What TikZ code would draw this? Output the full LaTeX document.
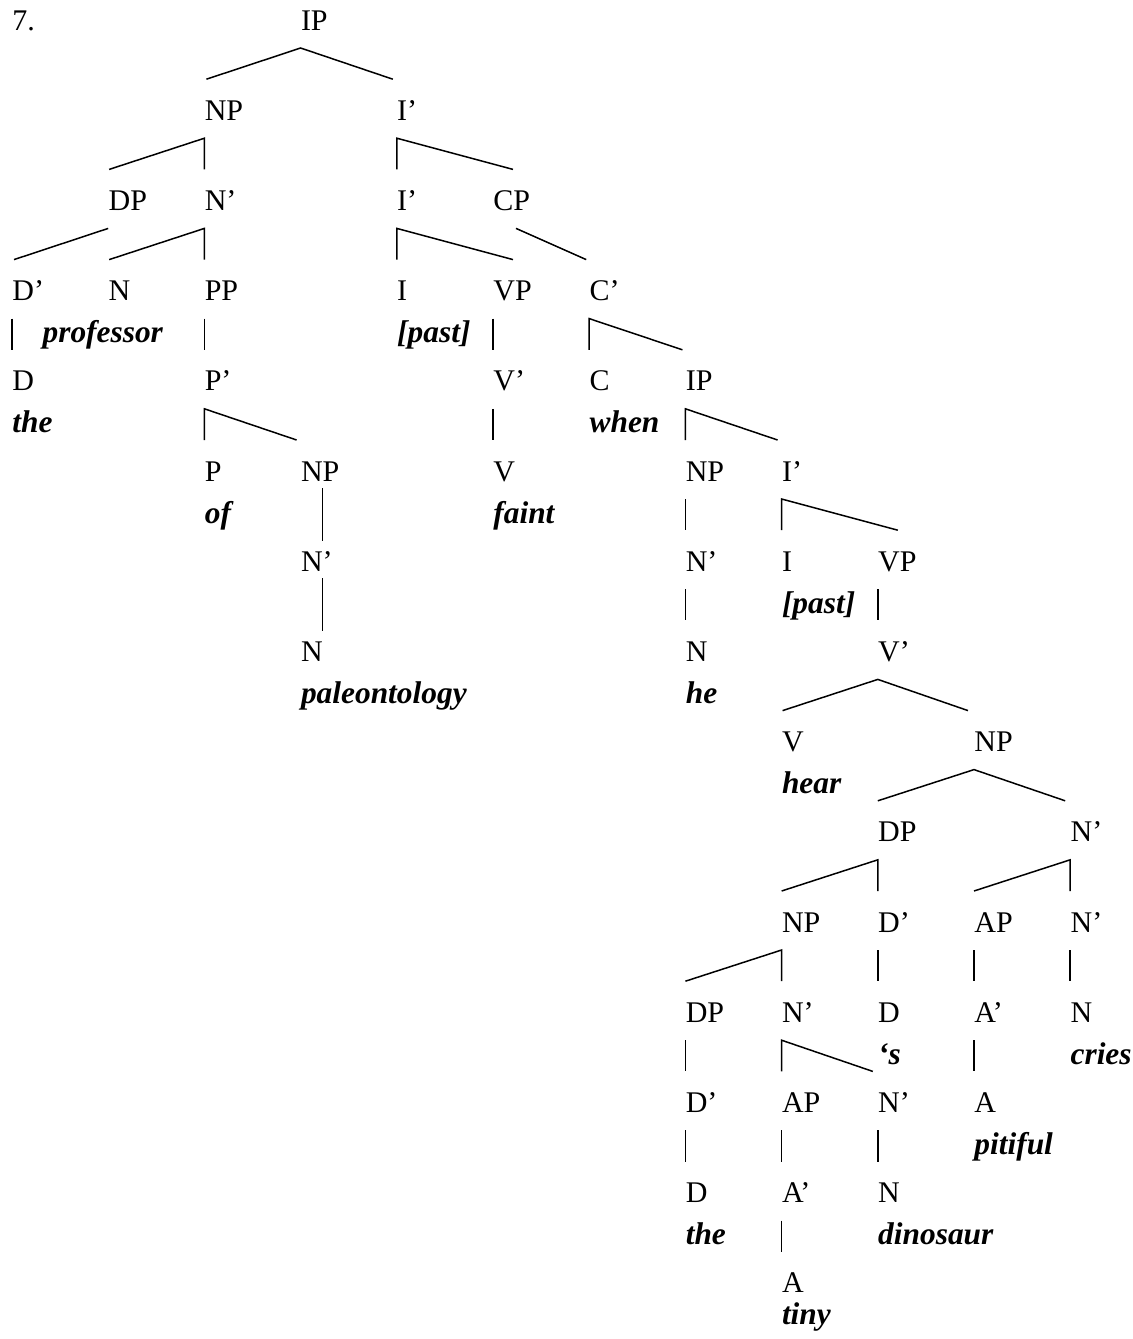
\documentclass[tikz,border=0pt]{standalone}
\usepackage{fontspec}
\setmainfont{Liberation Serif}
\usepackage{tikz}
\usetikzlibrary{calc}
\newcommand{\treefont}{\fontsize{15}{18}\selectfont}
\newcommand{\wordfont}{\fontsize{15.7}{18}\selectfont\bfseries\itshape}

\begin{document}
\begin{tikzpicture}[
  x=48.1pt, y=-45.1pt,
  lab/.style={anchor=base west, inner sep=0pt, font=\treefont},
  wd/.style={anchor=base west, inner sep=0pt, yshift=-21pt, font=\wordfont},
  edge/.style={line width=0.75pt},
  apex/.style={yshift=-9pt},
  foot/.style={yshift=20.5pt}
]
  \useasboundingbox (-6pt,15pt) rectangle (560.5pt,-654.5pt);
  % upper part of the tree
  \node[lab] (num) at (0,0) {7.};
  \node[lab] (ip) at (3,0) {IP};
  \node[lab] (np) at (2,1) {NP};
  \node[lab] (ib) at (4,1) {I’};
  \node[lab] (dp) at (1,2) {DP};
  \node[lab] (nb) at (2,2) {N’};
  \node[lab] (ib2) at (4,2) {I’};
  \node[lab] (cp) at (5,2) {CP};
  \node[lab] (db) at (0,3) {D’};
  \node[lab] (n) at (1,3) {N};
  \node[wd, xshift=-33pt] (wprof) at (1,3) {professor};
  \node[lab] (pp) at (2,3) {PP};
  \node[lab] (i) at (4,3) {I};
  \node[wd] (wpast) at (4,3) {[past]};
  \node[lab] (vp) at (5,3) {VP};
  \node[lab] (cb) at (6,3) {C’};
  \node[lab] (d) at (0,4) {D};
  \node[wd] (wthe) at (0,4) {the};
  \node[lab] (pb) at (2,4) {P’};
  \node[lab] (vb) at (5,4) {V’};
  \node[lab] (c) at (6,4) {C};
  \node[wd] (wwhen) at (6,4) {when};
  \node[lab] (ip2) at (7,4) {IP};
  \node[lab] (p) at (2,5) {P};
  \node[wd] (wof) at (2,5) {of};
  \node[lab] (np2) at (3,5) {NP};
  \node[lab] (v) at (5,5) {V};
  \node[wd] (wfaint) at (5,5) {faint};
  \node[lab] (np3) at (7,5) {NP};
  \node[lab] (ib3) at (8,5) {I’};
  \node[lab] (nb2) at (3,6) {N’};
  \node[lab] (nb3) at (7,6) {N’};
  \node[lab] (i2) at (8,6) {I};
  \node[wd] (wpast2) at (8,6) {[past]};
  \node[lab] (vp2) at (9,6) {VP};
  \node[lab] (n2) at (3,7) {N};
  \node[wd] (wpaleo) at (3,7) {paleontology};
  \node[lab] (n3) at (7,7) {N};
  \node[wd] (whe) at (7,7) {he};
  \node[lab] (vb2) at (9,7) {V’};
  % object of hear
  \node[lab] (v2) at (8,8) {V};
  \node[wd] (whear) at (8,8) {hear};
  \node[lab] (np4) at (10,8) {NP};
  \node[lab] (dp2) at (9,9) {DP};
  \node[lab] (nb4) at (11,9) {N’};
  \node[lab] (np5) at (8,10) {NP};
  \node[lab] (db2) at (9,10) {D’};
  \node[lab] (ap) at (10,10) {AP};
  \node[lab] (nb5) at (11,10) {N’};
  \node[lab] (dp3) at (7,11) {DP};
  \node[lab] (nb6) at (8,11) {N’};
  \node[lab] (d2) at (9,11) {D};
  \node[wd] (ws) at (9,11) {‘s};
  \node[lab] (ab) at (10,11) {A’};
  \node[lab] (n4) at (11,11) {N};
  \node[wd] (wcries) at (11,11) {cries};
  \node[lab] (db3) at (7,12) {D’};
  \node[lab] (ap2) at (8,12) {AP};
  \node[lab] (nb7) at (9,12) {N’};
  \node[lab] (a) at (10,12) {A};
  \node[wd] (wpitiful) at (10,12) {pitiful};
  \node[lab] (d3) at (7,13) {D};
  \node[wd] (wthe2) at (7,13) {the};
  \node[lab] (ab2) at (8,13) {A’};
  \node[lab] (n5) at (9,13) {N};
  \node[wd] (wdino) at (9,13) {dinosaur};
  \node[lab] (a2) at (8,14) {A};
  \node[wd, yshift=5pt] (wtiny) at (8,14) {tiny};

  % branching
  \draw[edge] ([foot,xshift=1pt]np.base west) -- ([apex]ip.base west) -- ([foot,xshift=-2pt]ib.base west);
  \draw[edge] ([foot,xshift=.5pt]dp.base west) -- ([apex]np.base west) -- ([foot]nb.base west);
  \draw[edge] ([foot]ib2.base west) -- ([apex]ib.base west) -- ([foot,xshift=10pt]cp.base west);
  \draw[edge] ([apex]dp.base west) -- ([foot,xshift=1pt]db.base west);
  \draw[edge] ([foot,xshift=.5pt]n.base west) -- ([apex]nb.base west) -- ([foot]pp.base west);
  \draw[edge] ([foot]i.base west) -- ([apex]ib2.base west) -- ([foot,xshift=10pt]vp.base west);
  \draw[edge] ([apex,xshift=11.5pt]cp.base west) -- ([foot,xshift=-1.5pt]cb.base west);
  \draw[edge] ([foot]c.base west) -- ([apex]cb.base west) -- ([foot,xshift=-1.5pt]ip2.base west);
  \draw[edge] ([foot]p.base west) -- ([apex]pb.base west) -- ([foot,xshift=-2pt]np2.base west);
  \draw[edge] ([foot]np3.base west) -- ([apex]ip2.base west) -- ([foot,xshift=-2pt]ib3.base west);
  \draw[edge] ([foot]i2.base west) -- ([apex]ib3.base west) -- ([foot,xshift=10pt]vp2.base west);
  \draw[edge] ([foot,xshift=.5pt]v2.base west) -- ([apex]vb2.base west) -- ([foot,xshift=-3pt]np4.base west);
  \draw[edge] ([foot]dp2.base west) -- ([apex]np4.base west) -- ([foot,xshift=-2.5pt]nb4.base west);
  \draw[edge] ([foot]np5.base west) -- ([apex]dp2.base west) -- ([foot]db2.base west);
  \draw[edge] ([foot]ap.base west) -- ([apex]nb4.base west) -- ([foot]nb5.base west);
  \draw[edge] ([foot]dp3.base west) -- ([apex]np5.base west) -- ([foot]nb6.base west);
  \draw[edge] ([foot]ap2.base west) -- ([apex]nb6.base west) -- ([foot,xshift=-2.5pt]nb7.base west);
  % long bars under NP of paleontology
  \draw[edge] ([xshift=11pt,yshift=-3.5pt]np2.base west) -- ([xshift=11pt,yshift=15pt]nb2.base west);
  \draw[edge] ([xshift=11pt,yshift=-3.5pt]nb2.base west) -- ([xshift=11pt,yshift=15pt]n2.base west);
  % single daughters
  \foreach \a/\b in {db/d, pp/pb, vp/vb, vb/v, np3/nb3, nb3/n3, vp2/vb2,
      db2/d2, ap/ab, nb5/n4, dp3/db3, ab/a, db3/d3, ap2/ab2, nb7/n5, ab2/a2}
    \draw[edge] ([apex]\a.base west) -- ([foot]\b.base west);
\end{tikzpicture}
\end{document}
